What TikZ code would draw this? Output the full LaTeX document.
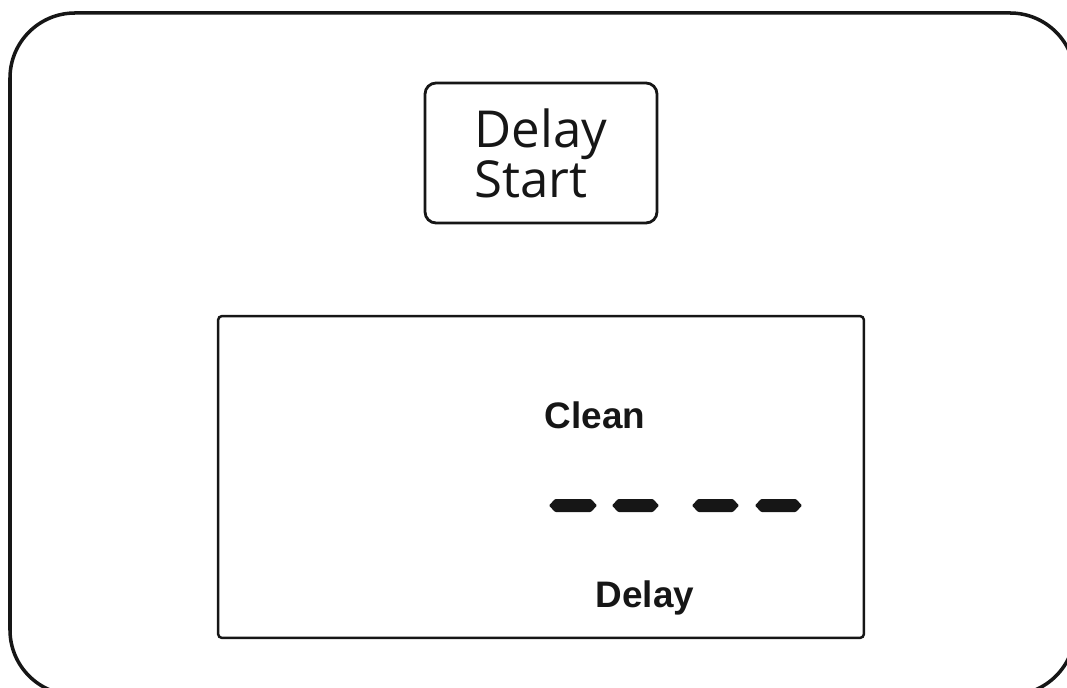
\documentclass[tikz,border=0pt]{standalone}
\usepackage{fontspec}
\setmainfont{Open Sans}
\newfontfamily\lcdfont{Liberation Sans}
\usepackage{xcolor}
\usepackage{tikz}
\usetikzlibrary{positioning, calc}
\definecolor{ink}{HTML}{161616}
\definecolor{panelbg}{HTML}{FFFFFF}

\begin{document}
\begin{tikzpicture}[
    x=0.02cm, y=-0.02cm,
    frame/.style={draw=ink, line width=2pt, rounded corners=1.3cm},
    button/.style={draw=ink, line width=1.6pt, rounded corners=0.22cm, fill=panelbg,
                   minimum width=4.64cm, minimum height=2.8cm, inner sep=0pt,
                   align=left, text=ink, font=\fontsize{29}{28.35}\selectfont},
    display/.style={draw=ink, line width=1.4pt, rounded corners=0.08cm,
                    minimum width=12.92cm, minimum height=6.44cm, inner sep=0pt},
    lcdlabel/.style={anchor=base, text=ink, inner sep=0pt,
                     font=\lcdfont\bfseries\fontsize{21}{24}\selectfont},
    segment/.style={fill=ink, rounded corners=0.6pt}
  ]
    \useasboundingbox (0,0) rectangle (1067,688);
    \clip (0,0) rectangle (1067,688);

    % control panel outline
    \draw[frame] (10,13) rectangle (1075,695);

    \node[button] (delaystart) at (541,153) {Delay\\Start};

    \node[display] (lcd) at (541,477) {};
    \node[lcdlabel] (clean) at (595,429) {Clean};
    \node[lcdlabel] (delay) at (645,607) {Delay};

    % blank time digits
    \foreach \xa/\xb in {549/597, 612/659, 692/739, 755/802} {
      \fill[segment] (\xa,505.5) -- (\xa+6,499) -- (\xb-6,499) -- (\xb,505.5)
        -- (\xb-6,512) -- (\xa+6,512) -- cycle;
    }
  \end{tikzpicture}
\end{document}
